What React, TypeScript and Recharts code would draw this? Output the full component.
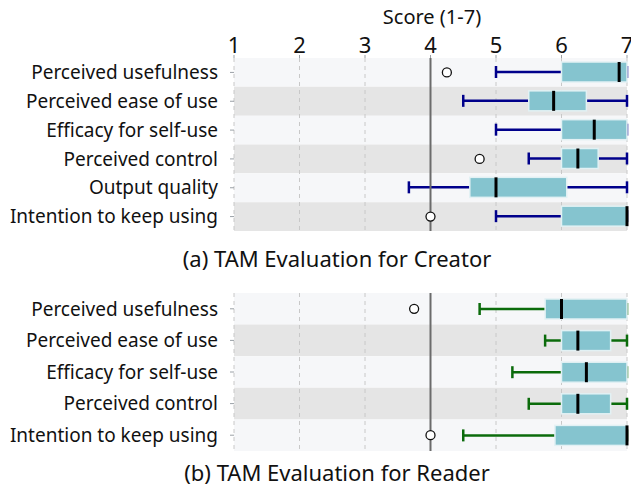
import { Bar, ComposedChart, ReferenceArea, ReferenceLine, Scatter, XAxis, YAxis } from 'recharts';

const FONT = '"Noto Sans", sans-serif';

const scoreTicks = [1, 2, 3, 4, 5, 6, 7];
const dashedScores = [1, 2, 3, 5, 6, 7];

// (a) creator
const creatorItems = [
  'Perceived usefulness',
  'Perceived ease of use',
  'Efficacy for self-use',
  'Perceived control',
  'Output quality',
  'Intention to keep using',
];
const creatorLow = [5, 4.5, 5, 5.5, 3.67, 5];
const creatorQ1 = [6, 5.5, 6, 6, 4.6, 6];
const creatorMedian = [6.88, 5.88, 6.5, 6.25, 5, 7];
const creatorQ3 = [7, 6.38, 7, 6.56, 6.08, 7];
const creatorHigh = [7, 7, 7, 7, 7, 7];
const creatorOutlier = [4.25, null, null, 4.75, null, 4];

// (b) reader
const readerItems = [
  'Perceived usefulness',
  'Perceived ease of use',
  'Efficacy for self-use',
  'Perceived control',
  'Intention to keep using',
];
const readerLow = [4.75, 5.75, 5.25, 5.5, 4.5];
const readerQ1 = [5.75, 6, 6, 6, 5.9];
const readerMedian = [6, 6.25, 6.38, 6.25, 7];
const readerQ3 = [7, 6.75, 7, 6.75, 7];
const readerHigh = [7, 7, 7, 7, 7];
const readerOutlier = [3.75, null, null, null, 4];

const stripeColors = ['#f6f7f9', '#e5e5e5'];

type Row = {
  name: string;
  low: number;
  q1: number;
  med: number;
  q3: number;
  high: number;
  outlier: number | null;
};

function buildRows(
  items: string[],
  low: number[],
  q1: number[],
  med: number[],
  q3: number[],
  high: number[],
  outlier: (number | null)[],
): Row[] {
  return items.map((name, i) => ({
    name,
    low: low[i],
    q1: q1[i],
    med: med[i],
    q3: q3[i],
    high: high[i],
    outlier: outlier[i],
  }));
}

const creatorRows = buildRows(creatorItems, creatorLow, creatorQ1, creatorMedian, creatorQ3, creatorHigh, creatorOutlier);
const readerRows = buildRows(readerItems, readerLow, readerQ1, readerMedian, readerQ3, readerHigh, readerOutlier);

// the bar spans [low, high]; box and median are placed along the same linear scale
function BoxShape(props: any) {
  const { x, y, width, height, payload, color } = props;
  const { low, high, q1, med, q3 } = payload as Row;
  const px = (v: number) => x + ((v - low) / (high - low)) * width;
  const cy = y + height / 2;
  const cap = 6;
  return (
    <g>
      <line x1={px(low)} x2={px(high)} y1={cy} y2={cy} stroke={color} strokeWidth={2.5} />
      <line x1={px(low)} x2={px(low)} y1={cy - cap} y2={cy + cap} stroke={color} strokeWidth={2.5} />
      <line x1={px(high)} x2={px(high)} y1={cy - cap} y2={cy + cap} stroke={color} strokeWidth={2.5} />
      <rect
        x={px(q1)}
        y={y}
        width={px(q3) - px(q1)}
        height={height}
        fill="#85c4cf"
        stroke="#e2f1f4"
        strokeWidth={1.5}
      />
      <line x1={px(med)} x2={px(med)} y1={y} y2={y + height} stroke="#000" strokeWidth={3} />
    </g>
  );
}

function OutlierDot(props: any) {
  const { cx, cy, payload } = props;
  if (payload?.outlier == null || cx == null || isNaN(cx)) return <g />;
  return <circle cx={cx} cy={cy} r={4.5} fill="#fff" stroke="#111" strokeWidth={1.3} />;
}

function BoxPanel({
  rows,
  color,
  height,
  top,
  showAxis,
}: {
  rows: Row[];
  color: string;
  height: number;
  top: number;
  showAxis: boolean;
}) {
  return (
    <ComposedChart
      layout="vertical"
      width={631}
      height={height}
      data={rows}
      margin={{ top, right: 4, bottom: 2, left: 0 }}
      barSize={20}
    >
      <XAxis
        type="number"
        domain={[1, 7]}
        ticks={scoreTicks}
        interval={0}
        orientation="top"
        height={showAxis ? 30 : 0}
        hide={!showAxis}
        axisLine={false}
        tickLine={{ stroke: '#9aa0a6' }}
        tickSize={3}
        tick={{ fontSize: 22, fill: '#111', fontFamily: FONT }}
      />
      <YAxis
        type="category"
        dataKey="name"
        width={234}
        allowDuplicatedCategory={false}
        axisLine={false}
        tickLine={{ stroke: '#9aa0a6' }}
        tickSize={4}
        tickMargin={12}
        tick={{ fontSize: 19, fill: '#111', fontFamily: FONT }}
      />
      {rows.map((r, i) => (
        <ReferenceArea
          key={r.name}
          y1={r.name}
          y2={r.name}
          fill={stripeColors[i % 2]}
          fillOpacity={1}
          stroke="none"
          zIndex={100}
        />
      ))}
      {dashedScores.map((s) => (
        <ReferenceLine key={s} x={s} stroke="#c8c8c8" strokeDasharray="4 4" zIndex={150} />
      ))}
      <Bar
        dataKey={(d: Row) => [d.low, d.high]}
        isAnimationActive={false}
        zIndex={300}
        shape={(p: any) => <BoxShape {...p} color={color} />}
      />
      <ReferenceLine x={4} stroke="#6b6b6b" strokeWidth={2} zIndex={400} />
      <Scatter dataKey="outlier" isAnimationActive={false} zIndex={500} shape={(p: any) => <OutlierDot {...p} />} />
    </ComposedChart>
  );
}

export default function App() {
  const caption = {
    position: 'absolute' as const,
    left: 137,
    width: 400,
    textAlign: 'center' as const,
    fontFamily: FONT,
    fontSize: 22,
    color: '#111',
    lineHeight: '28px',
  };
  return (
    <div style={{ position: 'absolute', left: 0, top: 0, width: 631, height: 491, background: '#fff' }}>
      <div
        style={{
          position: 'absolute',
          left: 332,
          top: 5,
          width: 200,
          textAlign: 'center',
          fontFamily: FONT,
          fontSize: 20,
          color: '#111',
          lineHeight: '24px',
        }}
      >
        Score (1-7)
      </div>
      <div style={{ position: 'absolute', left: 0, top: 0 }}>
        <BoxPanel rows={creatorRows} color="#00008b" height={233} top={28} showAxis />
      </div>
      <div style={{ ...caption, top: 244 }}>(a) TAM Evaluation for Creator</div>
      <div style={{ position: 'absolute', left: 0, top: 285 }}>
        <BoxPanel rows={readerRows} color="#0b6b0b" height={168} top={8} showAxis={false} />
      </div>
      <div style={{ ...caption, top: 458 }}>(b) TAM Evaluation for Reader</div>
    </div>
  );
}
